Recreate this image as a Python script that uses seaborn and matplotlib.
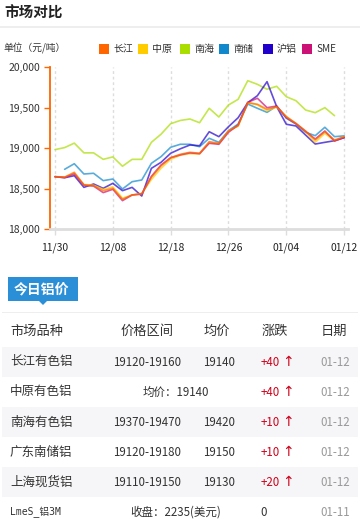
import numpy as np
import pandas as pd
import matplotlib
matplotlib.use("Agg")
import matplotlib.pyplot as plt
from matplotlib.patches import Rectangle, Polygon
import seaborn as sns

sns.set_theme(style="white")
plt.rcParams['font.family'] = ['Noto Sans CJK SC', 'DejaVu Sans']

# --- chart data (yuan/ton), 31 points from 11/30 to 01/12 ---
nan = np.nan
changjiang = [18646, 18640, 18700, 18543, 18535, 18473, 18502, 18367, 18420, 18432,
              18640, 18780, 18880, 18922, 18947, 18935, 19078, 19058, 19210, 19275,
              19560, 19540, 19478, 19510, 19387, 19305, 19210, 19099, 19201, 19099, 19140]
zhongyuan = [18646, 18640, 18690, 18550, 18540, 18490, 18520, 18380, 18420, 18440,
             18610, 18750, 18860, 18910, 18930, 18925, 19070, 19050, 19210, 19270,
             19560, 19531, 19460, 19505, 19390, 19300, 19200, 19070, 19181, 19086, 19140]
nanhai = [18980, 19005, 19060, 18940, 18940, 18860, 18890, 18775, 18860, 18860,
          19070, 19170, 19300, 19340, 19358, 19312, 19490, 19383, 19531, 19601,
          19831, 19786, 19725, 19762, 19633, 19584, 19469, 19436, 19498, 19399, nan]
nanchu = [nan, 18737, 18806, 18679, 18688, 18597, 18617, 18494, 18584, 18605,
          18811, 18893, 19009, 19046, 19046, 19016, 19120, 19070, 19214, 19296,
          19543, 19490, 19440, 19518, 19367, 19296, 19194, 19152, 19256, 19140, 19150]
hulv = [18646, 18633, 18658, 18514, 18556, 18502, 18564, 18473, 18514, 18407,
        18749, 18823, 18935, 18990, 19037, 19028, 19201, 19140, 19263, 19374,
        19560, 19646, 19819, 19510, 19293, 19272, 19160, 19049, 19070, 19090, 19127]
sme = [18646, 18635, 18680, 18540, 18530, 18449, 18490, 18350, 18420, 18432,
       18650, 18790, 18880, 18915, 18940, 18930, 19058, 19046, 19194, 19284,
       19564, 19614, 19498, 19518, 19374, 19300, 19205, 19111, 19210, 19086, 19130]

series_names = ['长江', '中原', '南海', '南储', '沪铝', 'SME']
series_colors = ['#FF6600', '#FFCC00', '#AADD00', '#1188CC', '#2200CC', '#CC1177']
tick_pos = [0, 6, 12, 18, 24, 30]
tick_labels = ['11/30', '12/08', '12/18', '12/26', '01/04', '01/12']

# --- today's price table ---
tab_header = ['市场品种', '价格区间', '均价', '涨跌', '日期']
tab_names = ['长江有色铝', '中原有色铝', '南海有色铝', '广东南储铝', '上海现货铝', 'LmeS_铝3M']
tab_ranges = ['19120-19160', None, '19370-19470', '19120-19180', '19110-19150', None]
tab_avg = ['19140', None, '19420', '19150', '19130', None]
tab_merged = [None, '均价：19140', None, None, None, '收盘：2235(美元)']
tab_change = ['+40', '+40', '+10', '+10', '+20', '0']
tab_dates = ['01-12', '01-12', '01-12', '01-12', '01-12', '01-11']

W, H = 360, 529
fig = plt.figure(figsize=(W / 100, H / 100), dpi=100)


def fx(x):
    return x / W


def fy(y):
    return 1 - y / H


# title + separator
fig.text(fx(4), fy(13), '市场对比', fontsize=10.5, fontweight='bold', color='#222',
         va='center', ha='left')
fig.add_artist(Rectangle((0, fy(28)), 1, 2 / H, transform=fig.transFigure,
                         color='#eeeeee', lw=0))

# unit + legend
fig.text(fx(3), fy(48), '单位（元/吨）', fontsize=7, color='#333', va='center')
leg_sq = [99, 138, 180, 219, 263, 302]
for sx, name, col in zip(leg_sq, series_names, series_colors):
    fig.add_artist(Rectangle((fx(sx), fy(54)), 10 / W, 10 / H,
                             transform=fig.transFigure, color=col, lw=0))
    fig.text(fx(sx + 14), fy(49), name, fontsize=7.2, color='#333', va='center')

# --- line chart ---
rows = []
for name, vals in zip(series_names, [changjiang, zhongyuan, nanhai, nanchu, hulv, sme]):
    for i, v in enumerate(vals):
        rows.append({'idx': i, 'price': v, 'market': name})
df = pd.DataFrame(rows)

ax = fig.add_axes([fx(50), fy(229), (348 - 50) / W, (229 - 67) / H])
for x in tick_pos:
    ax.axvline(x, color='#dddddd', lw=1, ls=(0, (2, 2)), zorder=0)

draw_order = ['南海', '南储', '沪铝', '中原', 'SME', '长江']
pal = dict(zip(series_names, series_colors))
for name in draw_order:
    sub = df[df.market == name]
    sns.lineplot(data=sub, x='idx', y='price', color=pal[name], lw=1.2,
                 alpha=0.7, ax=ax, legend=False)

ax.set_xlim(-0.52, 30.4)
ax.set_ylim(18000, 20000)
ax.set_xticks(tick_pos)
ax.set_xticklabels(tick_labels)
ax.set_yticks([18000, 18500, 19000, 19500, 20000])
ax.set_yticklabels(['18,000', '18,500', '19,000', '19,500', '20,000'])
ax.set_xlabel('')
ax.set_ylabel('')
for s in ['top', 'right']:
    ax.spines[s].set_visible(False)
ax.spines['left'].set_color('#FF6600')
ax.spines['left'].set_linewidth(1.3)
ax.spines['bottom'].set_color('#dddddd')
ax.spines['bottom'].set_linewidth(2)
ax.tick_params(axis='y', colors='#FF6600', labelcolor='#333', length=4, width=1,
               labelsize=7.5, left=True, pad=3)
ax.tick_params(axis='x', colors='#dddddd', labelcolor='#222', length=4, width=1,
               labelsize=7.5, bottom=True, pad=6)
ax.grid(False)

# --- tab "今日铝价" ---
fig.add_artist(Rectangle((fx(8), fy(301)), 70 / W, 24 / H, transform=fig.transFigure,
                         color='#2B8FD8', lw=0))
fig.add_artist(Polygon([(fx(39), fy(301)), (fx(47), fy(301)), (fx(43), fy(305))],
                       closed=True, transform=fig.transFigure, color='#2B8FD8', lw=0))
fig.text(fx(41), fy(289), '今日铝价', fontsize=10, fontweight='bold', color='white',
         ha='center', va='center')
fig.add_artist(Rectangle((fx(2), fy(313)), (W - 4) / W, 1.5 / H,
                         transform=fig.transFigure, color='#eeeeee', lw=0))

# table
fig.text(fx(10), fy(331), tab_header[0], fontsize=9.5, color='#333', va='center')
for hx, txt in zip([147, 217, 275, 334], tab_header[1:]):
    fig.text(fx(hx), fy(331), txt, fontsize=9.5, color='#333', va='center', ha='center')

for i in range(6):
    yc = 362 + 30 * i
    if i % 2 == 0:
        fig.add_artist(Rectangle((fx(2), fy(yc + 15)), (W - 4) / W, 30 / H,
                                 transform=fig.transFigure, color='#f6f6f8', lw=0,
                                 zorder=0))
    if i == 5:
        fig.text(fx(10), fy(yc), tab_names[i], fontsize=7, color='#333', va='center',
                 family=['DejaVu Sans Mono', 'Noto Sans CJK SC'])
    else:
        fig.text(fx(10), fy(yc), tab_names[i], fontsize=9, color='#333', va='center')
    if tab_merged[i] is not None:
        fig.text(fx(176), fy(yc), tab_merged[i], fontsize=8.3, color='#333',
                 va='center', ha='center')
    else:
        fig.text(fx(147), fy(yc), tab_ranges[i], fontsize=8.3, color='#333',
                 va='center', ha='center')
        fig.text(fx(219), fy(yc), tab_avg[i], fontsize=8.3, color='#333',
                 va='center', ha='center')
    if tab_change[i] == '0':
        fig.text(fx(264), fy(yc), '0', fontsize=8.3, color='#333', va='center',
                 ha='center')
    else:
        fig.text(fx(261), fy(yc), tab_change[i], fontsize=8.3, color='#d0021b',
                 va='center', ha='left')
        fig.text(fx(282), fy(yc), '↑', fontsize=10, color='#d0021b',
                 va='center', ha='left', family=['DejaVu Sans'])
    fig.text(fx(335), fy(yc), tab_dates[i], fontsize=8.3, color='#999', va='center',
             ha='center')

fig.savefig('out.png', dpi=100)
